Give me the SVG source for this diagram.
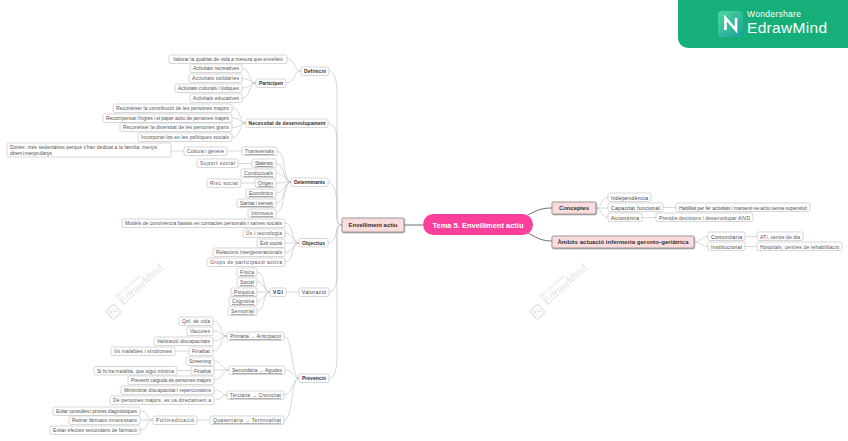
<svg xmlns="http://www.w3.org/2000/svg" width="848" height="441" viewBox="0 0 848 441">
<style>
text{font-family:"Liberation Sans",Arial,sans-serif;font-size:5px;fill:#555;text-anchor:middle}
.n rect{fill:#fff;stroke:#c4c4c4;stroke-width:.7}
.b text{font-weight:700;fill:#333}
.d text{fill:#333}
.u text{text-decoration:underline}
.m rect{fill:#fbdcdc;stroke:#8a8a8a;stroke-width:.8;filter:url(#s)}
.m text{font-weight:700;font-size:6px;fill:#333}
#conn path{fill:none;stroke:#bcbcbc;stroke-width:.6}
#conn .k{stroke:#6e6e6e;stroke-width:1}
.w text{fill:#e6e6e6;text-anchor:start}
</style>
<defs>
<filter id="s" x="-10%" y="-20%" width="120%" height="150%"><feDropShadow dx=".5" dy=".7" stdDeviation=".4" flood-color="#999"/></filter>
<linearGradient id="lg" x1="0" y1="0" x2="1" y2="1"><stop offset="0" stop-color="#4fd6a0"/><stop offset="1" stop-color="#1d9f9a"/></linearGradient>
<g id="wm" class="w">
<rect x="-17" y="-5.500" width="11" height="11" rx="2" fill="none" stroke="#e6e6e6" stroke-width="1.600"/>
<path d="M-14 2.500V-2.500L-9 2.500V-2.500" fill="none" stroke="#e6e6e6" stroke-width="1.200"/>
<text x="0" y="-7.500" style="font-size:5.500px">Wondershare</text>
<text x="0" y="2" style="font-size:11px">EdrawMind</text>
</g>
</defs>
<rect width="848" height="441" fill="#fff"/>
<use href="#wm" transform="translate(122,304) rotate(-42)"/>
<use href="#wm" transform="translate(546,304) rotate(-42)"/>
<g id="logo">
<rect x="678" y="-12" width="182" height="60" rx="10" fill="#16ae79"/>
<rect x="718" y="11" width="25" height="26" rx="4" fill="url(#lg)"/>
<path d="M725.500 30V18L736 30V18" fill="none" stroke="#fff" stroke-width="2.600"/>
<text x="747" y="17" style="font-size:8.500px;fill:#fff;text-anchor:start" textLength="54">Wondershare</text>
<text x="747" y="33" style="font-size:15.500px;fill:#fff;text-anchor:start" textLength="80">EdrawMind</text>
</g>
<g id="conn">
<path class="k" d="M423 225H404"/>
<path class="k" d="M528 215C537 210 542 208 552 208"/>
<path class="k" d="M528 233C537 238 542 241 552 241"/>
<path d="M342 225C336 225 337 218 337 205V92C337 80 334 71 329 71"/>
<path d="M342 225C336 225 337 218 337 205V140C337 130 333 123 328 123"/>
<path d="M342 225C336 225 337 218 337 205C337 192 333 182 328 182"/>
<path d="M342 225C336 225 337 230 336 234C334 240 332 243 328 243"/>
<path d="M342 225C336 225 337 232 337 245V275C337 285 334 292 329 292"/>
<path d="M342 225C336 225 337 232 337 245V358C337 370 334 378 329 378"/>
<path d="M301 71C293 71 296 59 287 59"/><path d="M301 71C293 71 296 83 286 83"/>
<path d="M256 83C248 83 251 68.500 242 68.500"/><path d="M256 83C249 83 251 78.500 242 78.500"/><path d="M256 83C249 83 251 88 242 88"/><path d="M256 83C248 83 251 98 242 98"/>
<path d="M246 123C239 123 241 108 232 108"/><path d="M246 123C239 123 241 118 232 118"/><path d="M246 123C239 123 241 127.500 232 127.500"/><path d="M246 123C239 123 241 137.500 232 137.500"/>
<path d="M291 182C283 182 286 151 277 151"/><path d="M291 182C283 182 285 163.500 276 163.500"/><path d="M291 182C284 182 285 173 276 173"/><path d="M291 182C284 182 285 183 276 183"/><path d="M291 182C284 182 285 193 276 193"/><path d="M291 182C284 182 285 203 276 203"/><path d="M291 182C283 182 285 213 276 213"/>
<path d="M184 151H171"/><path d="M242 151H227"/><path d="M252 163.500H238"/><path d="M255 183H241"/>
<path d="M299 243C291 243 294 223 285 223"/><path d="M299 243C292 243 294 233 285 233"/><path d="M299 243H285"/><path d="M299 243C292 243 294 252.500 285 252.500"/><path d="M299 243C291 243 294 262 285 262"/>
<path d="M299 292H286"/><path d="M270 292C262 292 266 272 257 272"/><path d="M270 292C263 292 266 282 257 282"/><path d="M270 292H257"/><path d="M270 292C263 292 266 301 257 301"/><path d="M270 292C262 292 266 311 257 311"/>
<path d="M299 378C291 378 293 336 284 336"/><path d="M299 378C292 378 294 370 285 370"/><path d="M299 378C292 378 293 395 284 395"/><path d="M299 378C291 378 293 420 284 420"/>
<path d="M227 336C220 336 222 321 213 321"/><path d="M227 336C220 336 222 331 213 331"/><path d="M227 336C220 336 222 341 213 341"/><path d="M227 336C220 336 222 351 213 351"/><path d="M189 351H175"/>
<path d="M229 370C222 370 223 361 214 361"/><path d="M229 370H214"/><path d="M229 370C222 370 223 380 214 380"/><path d="M191 370.500H177"/>
<path d="M227 395C221 395 223 390 214 390"/><path d="M227 395C221 395 223 400 214 400"/>
<path d="M210 420H197"/><path d="M153 420C146 420 149 411 140 411"/><path d="M153 420H140"/><path d="M153 420C146 420 149 430 140 430"/>
<path d="M596 208C602 208 601 197.500 608 197.500"/><path d="M596 208H608"/><path d="M596 208C602 208 601 217.500 608 217.500"/>
<path d="M663 207.500H676"/><path d="M642 217.500H656"/>
<path d="M694 242C701 242 701 236.500 708 236.500"/><path d="M694 242C701 242 701 246.500 708 246.500"/>
<path d="M745 236.500H757"/><path d="M745 246.500H757"/>
</g>
<g id="root"><rect x="423" y="214" width="110" height="21" rx="10.500" fill="#fb3f9d"/><text x="478" y="227.500" style="font-size:7.500px;font-weight:700;fill:#fff" textLength="91">Tema 5. Envelliment actiu</text></g>
<g id="n-env" class="m"><rect x="342" y="218" width="62" height="14" rx="1"/><text x="373" y="227" textLength="49">Envelliment actiu</text></g>
<g id="n-con" class="m"><rect x="552" y="202" width="44" height="12" rx="1"/><text x="574" y="210" textLength="30">Conceptes</text></g>
<g id="n-amb" class="m"><rect x="552" y="236" width="142" height="12" rx="1"/><text x="623" y="244" textLength="131">Àmbits actuació infermeria geronto-geriàtrica</text></g>
<g id="n1" class="n b"><rect x="301" y="67" width="28" height="8.500" rx="1.500"/><text x="315" y="73" textLength="22">Definició</text></g>
<g id="n2" class="n"><rect x="169" y="55" width="118" height="8.500" rx="1.500"/><text x="228" y="61" textLength="110">Valorar la qualitat de vida a mesura que envelleix</text></g>
<g id="n3" class="n b"><rect x="256" y="79" width="30" height="8.500" rx="1.500"/><text x="271" y="85" textLength="24">Participen</text></g>
<g id="n4" class="n"><rect x="190" y="64" width="52" height="8.500" rx="1.500"/><text x="216" y="70" textLength="46">Activitats recreatives</text></g>
<g id="n5" class="n"><rect x="189" y="74" width="53" height="8.500" rx="1.500"/><text x="215.500" y="80" textLength="47">Activitats solidàries</text></g>
<g id="n6" class="n"><rect x="175" y="84" width="67" height="8.500" rx="1.500"/><text x="208.500" y="90" textLength="61">Activitats culturals i lúdiques</text></g>
<g id="n7" class="n"><rect x="190" y="94" width="52" height="8.500" rx="1.500"/><text x="216" y="100" textLength="46">Activitats educatives</text></g>
<g id="n8" class="n b"><rect x="246" y="119" width="82" height="8.500" rx="1.500"/><text x="287" y="125" textLength="77">Necessitat de desenvolupament</text></g>
<g id="n9" class="n"><rect x="113" y="104" width="119" height="8.500" rx="1.500"/><text x="172.500" y="110" textLength="113">Reconèixer la contribució de les persones majors</text></g>
<g id="n10" class="n"><rect x="103" y="114" width="129" height="8.500" rx="1.500"/><text x="167.500" y="120" textLength="123">Recompensar l'ingrés i el paper actiu de persones majors</text></g>
<g id="n11" class="n"><rect x="120" y="123" width="112" height="8.500" rx="1.500"/><text x="176" y="129" textLength="106">Reconèixer la diversitat de les persones grans</text></g>
<g id="n12" class="n"><rect x="138" y="133" width="94" height="8.500" rx="1.500"/><text x="185" y="139" textLength="88">Incorporar-los en les polítiques socials</text></g>
<g id="n13" class="n"><rect x="7" y="143" width="164" height="14" rx="1.500"/><text x="10" y="149" style="text-anchor:start" textLength="147">Dones: més sedentàries perquè s'han dedicat a la família, menys</text><text x="10" y="155" style="text-anchor:start" textLength="42">diners i menys d'anys</text></g>
<g id="n14" class="n"><rect x="184" y="147" width="43" height="8.500" rx="1.500"/><text x="205.500" y="153" textLength="37">Cultura i gènere</text></g>
<g id="n15" class="n u"><rect x="242" y="147" width="35" height="8.500" rx="1.500"/><text x="259.500" y="153" textLength="29">Transversals</text></g>
<g id="n16" class="n"><rect x="197" y="159" width="41" height="8.500" rx="1.500"/><text x="217.500" y="165" textLength="35">Suport social</text></g>
<g id="n17" class="n u"><rect x="252" y="159" width="24" height="8.500" rx="1.500"/><text x="264" y="165" textLength="18">Sistèmics</text></g>
<g id="n18" class="n u"><rect x="241" y="169" width="35" height="8.500" rx="1.500"/><text x="258.500" y="175" textLength="29">Conductuals</text></g>
<g id="n19" class="n"><rect x="207" y="179" width="34" height="8.500" rx="1.500"/><text x="224" y="185" textLength="28">Risc social</text></g>
<g id="n20" class="n u"><rect x="255" y="179" width="21" height="8.500" rx="1.500"/><text x="265.500" y="185" textLength="15">Origen</text></g>
<g id="n21" class="n u"><rect x="246" y="189" width="30" height="8.500" rx="1.500"/><text x="261" y="195" textLength="24">Econòmics</text></g>
<g id="n22" class="n u"><rect x="237" y="199" width="39" height="8.500" rx="1.500"/><text x="256.500" y="205" textLength="33">Sanitat i serveis</text></g>
<g id="n23" class="n u"><rect x="248" y="209" width="28" height="8.500" rx="1.500"/><text x="262" y="215" textLength="22">Intrínsecs</text></g>
<g id="n24" class="n b"><rect x="291" y="178" width="37" height="8.500" rx="1.500"/><text x="309.500" y="184" textLength="31">Determinants</text></g>
<g id="n25" class="n b"><rect x="299" y="238.500" width="29" height="8.500" rx="1.500"/><text x="313.500" y="244.500" textLength="23">Objectius</text></g>
<g id="n26" class="n"><rect x="122" y="219" width="163" height="8.500" rx="1.500"/><text x="203.500" y="225" textLength="157">Models de convivència basats en contactes personals i xarxes socials</text></g>
<g id="n27" class="n"><rect x="243" y="229" width="42" height="8.500" rx="1.500"/><text x="264" y="235" textLength="36">Ús i tecnologia</text></g>
<g id="n28" class="n"><rect x="257" y="239" width="28" height="8.500" rx="1.500"/><text x="271" y="245" textLength="22">Èxit social</text></g>
<g id="n29" class="n"><rect x="213" y="248" width="72" height="8.500" rx="1.500"/><text x="249" y="254" textLength="66">Relacions intergeneracionals</text></g>
<g id="n30" class="n"><rect x="207" y="258" width="78" height="8.500" rx="1.500"/><text x="246" y="264" textLength="72">Grups de participació activa</text></g>
<g id="n31" class="n b"><rect x="299" y="288" width="30" height="8.500" rx="1.500"/><text x="314" y="294" textLength="24" style="font-weight:400">Valoració</text></g>
<g id="n32" class="n b"><rect x="270" y="288" width="16" height="8.500" rx="1.500"/><text x="278" y="294" textLength="10">VGI</text></g>
<g id="n33" class="n u"><rect x="237" y="268" width="20" height="8.500" rx="1.500"/><text x="247" y="274" textLength="14">Física</text></g>
<g id="n34" class="n u"><rect x="237" y="278" width="20" height="8.500" rx="1.500"/><text x="247" y="284" textLength="14">Social</text></g>
<g id="n35" class="n u"><rect x="231" y="288" width="26" height="8.500" rx="1.500"/><text x="244" y="294" textLength="20">Psíquica</text></g>
<g id="n36" class="n u"><rect x="229" y="297" width="28" height="8.500" rx="1.500"/><text x="243" y="303" textLength="22">Cognitiva</text></g>
<g id="n37" class="n u"><rect x="228" y="307" width="29" height="8.500" rx="1.500"/><text x="242.500" y="313" textLength="23">Sensorial</text></g>
<g id="n38" class="n b"><rect x="299" y="374" width="30" height="8.500" rx="1.500"/><text x="314" y="380" textLength="24">Prevenció</text></g>
<g id="n39" class="n u"><rect x="227" y="332" width="57" height="8.500" rx="1.500"/><text x="255.500" y="338" textLength="51">Primària → Anticipació</text></g>
<g id="n40" class="n"><rect x="179" y="317" width="34" height="8.500" rx="1.500"/><text x="196" y="323" textLength="28">Qol. de vida</text></g>
<g id="n41" class="n"><rect x="187" y="327" width="26" height="8.500" rx="1.500"/><text x="200" y="333" textLength="20">Vacunes</text></g>
<g id="n42" class="n"><rect x="154" y="337" width="59" height="8.500" rx="1.500"/><text x="183.500" y="343" textLength="53">Valoració discapacitats</text></g>
<g id="n43" class="n"><rect x="189" y="347" width="24" height="8.500" rx="1.500"/><text x="201" y="353" textLength="18">Finalitat</text></g>
<g id="n44" class="n"><rect x="111" y="347" width="64" height="8.500" rx="1.500"/><text x="143" y="353" textLength="58">Vs malalties i síndromes</text></g>
<g id="n45" class="n u"><rect x="229" y="366" width="56" height="8.500" rx="1.500"/><text x="257" y="372" textLength="50">Secundària → Agudes</text></g>
<g id="n46" class="n"><rect x="186" y="357" width="28" height="8.500" rx="1.500"/><text x="200" y="363" textLength="22">Screening</text></g>
<g id="n47" class="n"><rect x="191" y="366.500" width="23" height="8.500" rx="1.500"/><text x="202.500" y="372.500" textLength="17">Finalitat</text></g>
<g id="n48" class="n"><rect x="94" y="366.500" width="83" height="8.500" rx="1.500"/><text x="135.500" y="372.500" textLength="77">Si hi ha malaltia, que sigui mínima</text></g>
<g id="n49" class="n"><rect x="128" y="376" width="86" height="8.500" rx="1.500"/><text x="171" y="382" textLength="80">Prevenir caiguda de persones majors</text></g>
<g id="n50" class="n u"><rect x="227" y="391" width="57" height="8.500" rx="1.500"/><text x="255.500" y="397" textLength="51">Terciària → Cronicitat</text></g>
<g id="n51" class="n"><rect x="121" y="386" width="93" height="8.500" rx="1.500"/><text x="167.500" y="392" textLength="87">Minimitzar discapacitat i repercussions</text></g>
<g id="n52" class="n"><rect x="110" y="396" width="104" height="8.500" rx="1.500"/><text x="162" y="402" textLength="98">De persones majors, es va directament a</text></g>
<g id="n53" class="n u"><rect x="210" y="416" width="74" height="8.500" rx="1.500"/><text x="247" y="422" textLength="68">Quaternària → Terminalitat</text></g>
<g id="n54" class="n"><rect x="153" y="416" width="44" height="8.500" rx="1.500"/><text x="175" y="422" textLength="38">Polimedicació</text></g>
<g id="n55" class="n"><rect x="53" y="407" width="87" height="8.500" rx="1.500"/><text x="96.500" y="413" textLength="81">Evitar consultes i proves diagnòstiques</text></g>
<g id="n56" class="n"><rect x="69" y="416" width="71" height="8.500" rx="1.500"/><text x="104.500" y="422" textLength="65">Retirar fàrmacs innecessaris</text></g>
<g id="n57" class="n"><rect x="50" y="426" width="90" height="8.500" rx="1.500"/><text x="95" y="432" textLength="84">Evitar efectes secundaris de fàrmacs</text></g>
<g id="n58" class="n d"><rect x="608" y="193" width="43" height="8.500" rx="1.500"/><text x="629.500" y="199.500" textLength="37">Independència</text></g>
<g id="n59" class="n d"><rect x="608" y="203" width="55" height="8.500" rx="1.500"/><text x="635.500" y="209.500" textLength="49">Capacitat funcional</text></g>
<g id="n60" class="n d"><rect x="608" y="213" width="34" height="8.500" rx="1.500"/><text x="625" y="219.500" textLength="28">Autonomia</text></g>
<g id="n61" class="n"><rect x="676" y="203" width="134" height="8.500" rx="1.500"/><text x="743" y="209.500" textLength="128">Habilitat per fer activitats i mantenir-se actiu sense supervisió</text></g>
<g id="n62" class="n"><rect x="656" y="213" width="97" height="8.500" rx="1.500"/><text x="704.500" y="219.500" textLength="91">Prendre decisions i desenvolupar AIVD</text></g>
<g id="n63" class="n d"><rect x="708" y="232" width="37" height="8.500" rx="1.500"/><text x="726.500" y="238.500" textLength="31">Comunitària</text></g>
<g id="n64" class="n d"><rect x="708" y="242" width="37" height="8.500" rx="1.500"/><text x="726.500" y="248.500" textLength="31">Institucional</text></g>
<g id="n65" class="n"><rect x="757" y="232" width="46" height="8.500" rx="1.500"/><text x="780" y="238.500" textLength="40">ATI, centre de dia</text></g>
<g id="n66" class="n"><rect x="757" y="242" width="85" height="8.500" rx="1.500"/><text x="799.500" y="248.500" textLength="79">Hospitals, centres de rehabilitació</text></g>
</svg>
